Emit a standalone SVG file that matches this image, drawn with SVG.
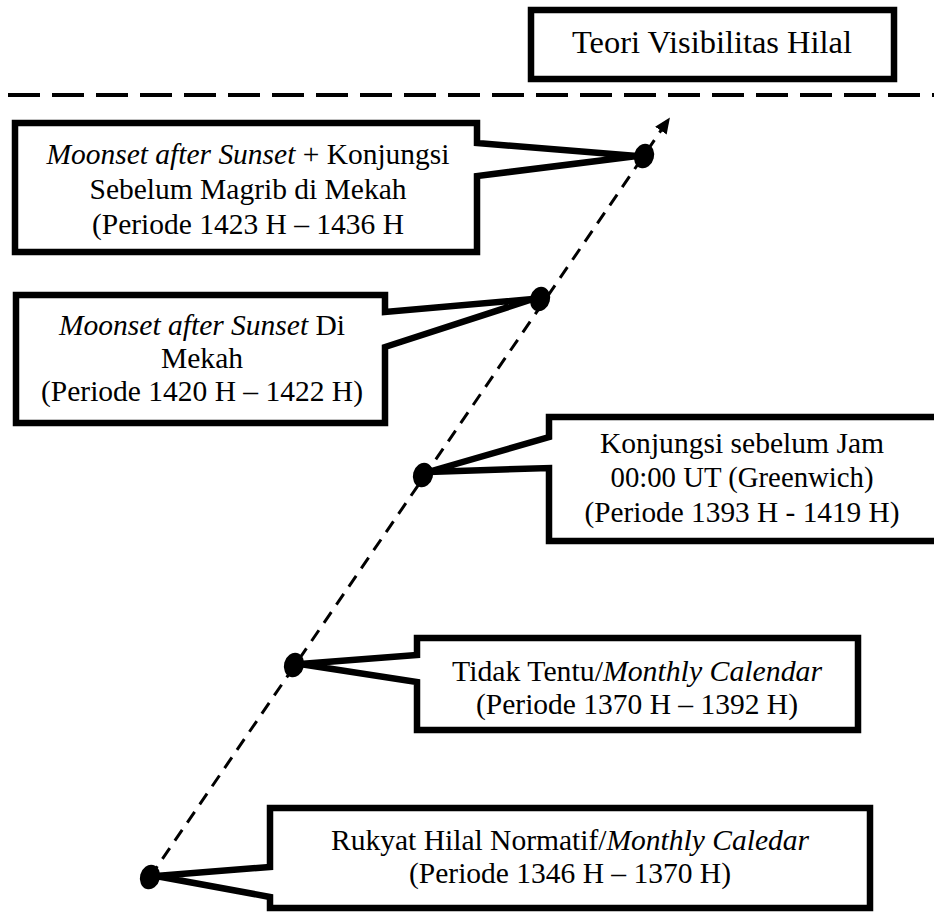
<svg xmlns="http://www.w3.org/2000/svg" width="934" height="913" viewBox="0 0 934 913">
<defs>
<marker id="arr" markerWidth="16" markerHeight="14" refX="2" refY="7" orient="auto" markerUnits="userSpaceOnUse">
<path d="M0,0 L16,7 L0,14 Z" fill="#000"/>
</marker>
<style>
.box{fill:#fff;stroke:#000;stroke-width:6.5;stroke-linejoin:miter;stroke-miterlimit:3}
.t{font-family:'Liberation Serif','Times New Roman','DejaVu Serif',serif;font-size:29.5px;fill:#000;text-anchor:middle}
.big{font-size:32px}
.i{font-style:italic}
.dot{fill:#000}
</style>
</defs>
<rect width="934" height="913" fill="#fff"/>
<g id="connectors">
<line x1="8" y1="95" x2="934" y2="95" stroke="#000" stroke-width="4" stroke-dasharray="32 12"/>
<line x1="150" y1="877" x2="662" y2="129" stroke="#000" stroke-width="3" stroke-dasharray="13 9" marker-end="url(#arr)"/>
</g>
<g id="title">
<rect class="box" x="531" y="10" width="363" height="69"/>
<text class="t big" x="712" y="53" textLength="280" lengthAdjust="spacingAndGlyphs">Teori Visibilitas Hilal</text>
</g>
<g id="node1">
<path class="box" d="M15,123 H477 V143 L637,156 L477,176 V252 H15 Z"/>
<text class="t" x="248" y="164" textLength="403" lengthAdjust="spacingAndGlyphs"><tspan class="i">Moonset after Sunset</tspan> + Konjungsi</text>
<text class="t" x="248" y="199" textLength="317" lengthAdjust="spacingAndGlyphs">Sebelum Magrib di Mekah</text>
<text class="t" x="248" y="234" textLength="312" lengthAdjust="spacingAndGlyphs">(Periode 1423 H – 1436 H</text>
<ellipse class="dot" cx="644" cy="156" rx="10" ry="12.5" transform="rotate(15 644 156)"/>
</g>
<g id="node2">
<path class="box" d="M16,295 H385 V312 L533,299 L385,347 V423 H16 Z"/>
<text class="t" x="202" y="335" textLength="286" lengthAdjust="spacingAndGlyphs"><tspan class="i">Moonset after Sunset</tspan> Di</text>
<text class="t" x="202" y="368" textLength="82" lengthAdjust="spacingAndGlyphs">Mekah</text>
<text class="t" x="202" y="401" textLength="322" lengthAdjust="spacingAndGlyphs">(Periode 1420 H – 1422 H)</text>
<ellipse class="dot" cx="540" cy="299" rx="10" ry="12.5" transform="rotate(15 540 299)"/>
</g>
<g id="node3">
<path class="box" d="M945,417 H549 V437 L428,472 L549,468 V541 H945"/>
<text class="t" x="742" y="453" textLength="284" lengthAdjust="spacingAndGlyphs">Konjungsi sebelum Jam</text>
<text class="t" x="742" y="487" textLength="263" lengthAdjust="spacingAndGlyphs">00:00 UT (Greenwich)</text>
<text class="t" x="742" y="522" textLength="315" lengthAdjust="spacingAndGlyphs">(Periode 1393 H - 1419 H)</text>
<ellipse class="dot" cx="423" cy="475" rx="10" ry="12.5" transform="rotate(15 423 475)"/>
</g>
<g id="node4">
<path class="box" d="M417,638 H858 V730 H417 V682 L300,664 L417,655 Z"/>
<text class="t" x="637" y="681" textLength="370" lengthAdjust="spacingAndGlyphs">Tidak Tentu/<tspan class="i">Monthly Calendar</tspan></text>
<text class="t" x="637" y="714" textLength="322" lengthAdjust="spacingAndGlyphs">(Periode 1370 H – 1392 H)</text>
<ellipse class="dot" cx="294" cy="665" rx="10" ry="12.5" transform="rotate(15 294 665)"/>
</g>
<g id="node5">
<path class="box" d="M270,808 H870 V908 H270 V897 L156,876 L270,867 Z"/>
<text class="t" x="570" y="850" textLength="478" lengthAdjust="spacingAndGlyphs">Rukyat Hilal Normatif/<tspan class="i">Monthly Caledar</tspan></text>
<text class="t" x="570" y="883" textLength="322" lengthAdjust="spacingAndGlyphs">(Periode 1346 H – 1370 H)</text>
<ellipse class="dot" cx="150" cy="877" rx="10" ry="12.5" transform="rotate(15 150 877)"/>
</g>
</svg>
